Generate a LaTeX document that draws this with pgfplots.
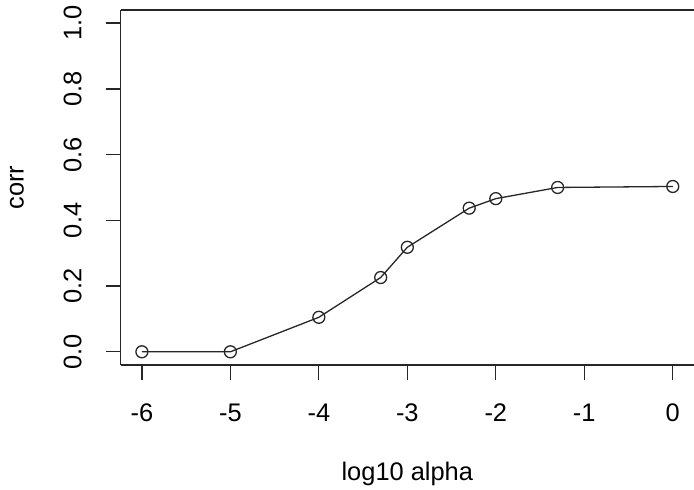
\documentclass[border=0pt]{standalone}
\usepackage{fontspec}
\setmainfont{Liberation Sans}
\usepackage{pgfplots}
\pgfplotsset{compat=1.18}
\begin{document}
\fontsize{25.5}{30}\selectfont
\begin{tikzpicture}
\begin{axis}[
  width=575pt, height=356pt, scale only axis,
  xmin=-6.24, xmax=0.24, ymin=-0.04, ymax=1.04,
  axis x line*=box, axis y line*=left,
  xtick={-6,-5,-4,-3,-2,-1,0},
  xticklabels={-6,-5,-4,-3,-2,-1,0},
  ytick={0,0.2,0.4,0.6,0.8,1.0},
  yticklabels={0.0,0.2,0.4,0.6,0.8,1.0},
  tick align=outside, major tick length=15pt,
  xtick pos=bottom, ytick pos=left,
  tick style={black!85, line width=1.3pt},
  axis line style={black!85, line width=1.5pt, -},
  xticklabel style={anchor=north, inner sep=0pt},
  yticklabel style={rotate=90, anchor=south, inner sep=0pt},
  xticklabel shift=24pt,
  yticklabel shift=24pt,
  xlabel={log10 alpha},
  ylabel={corr},
  xlabel style={at={(axis description cs:0.5,-0.2725)}, anchor=north, inner sep=0pt},
  ylabel style={at={(axis description cs:-0.1809,0.5)}, anchor=center, inner sep=0pt},
  clip=false,
]
% corr against log10 alpha
\addplot[black!85, line width=1.3pt, mark=o, mark size=6pt, mark options={line width=1.3pt}] coordinates {
  (-6, 0.000) (-5, 0.000) (-4, 0.105) (-3.301, 0.226) (-3, 0.318)
  (-2.301, 0.437) (-2, 0.466) (-1.301, 0.500) (0, 0.503)
};
\coordinate (bl) at (rel axis cs:0,0);
\coordinate (tr) at (rel axis cs:1,1);
\end{axis}
\pgfresetboundingbox
\path (bl) ++(-121pt,-125pt) coordinate (a);
\path (tr) ++(-3pt,10pt) coordinate (b);
\path (a) rectangle (b);
\end{tikzpicture}
\end{document}
